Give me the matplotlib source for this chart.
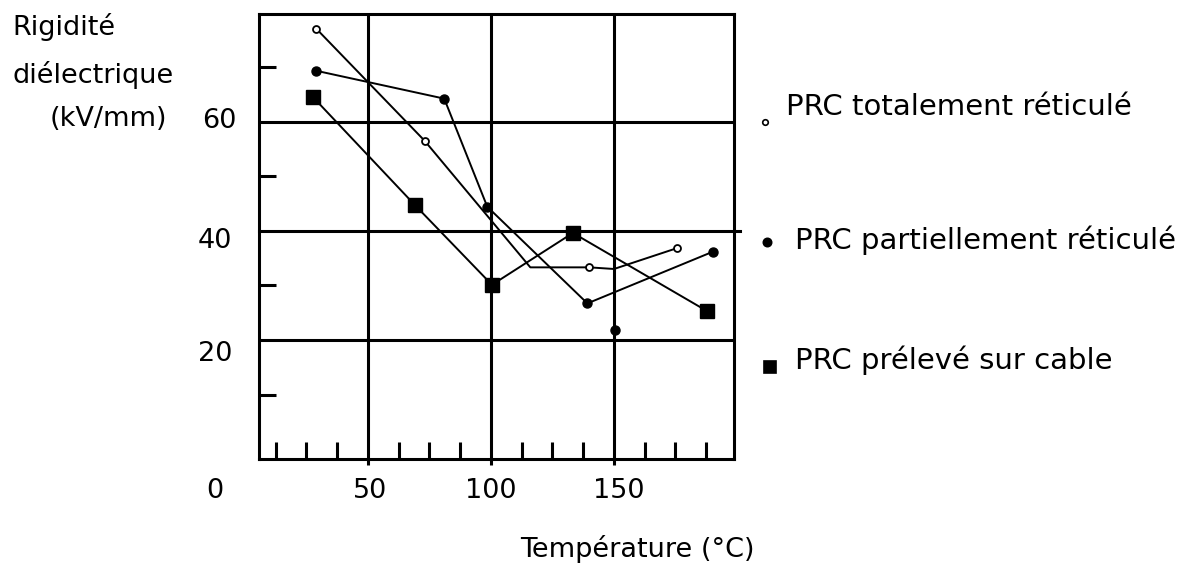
import matplotlib
matplotlib.use("Agg")
import matplotlib.pyplot as plt

# ─── Données ──────────────────────────────────────────────────────────────
tot_x = [29, 73, 116, 140, 150, 175.5]
tot_y = [77.0, 56.5, 33.3, 33.3, 33.0, 36.8]
tot_marks = [0, 1, 3, 5]          # points marqués (cercle ouvert)

part_x = [29, 81, 98.5, 139.2, 190.4]
part_y = [69.3, 64.2, 44.4, 26.7, 36.2]
part_iso_x = [150.4]
part_iso_y = [21.8]

cab_x = [27.6, 69.1, 100.4, 133.3, 187.8]
cab_y = [64.5, 44.7, 30.1, 39.6, 25.3]

x_labels = ["50", "100", "150"]
y_labels = ["60", "40", "20"]
legend_labels = ["PRC totalement réticulé",
                 "PRC partiellement réticulé",
                 "PRC prélevé sur cable"]

W, H = 1193, 573


def px(x, y):
    """Pixel (origine en haut à gauche) -> coordonnées figure."""
    return x / W, 1 - y / H


fig = plt.figure(figsize=(W / 100, H / 100), dpi=100)
ax = fig.add_axes([259 / W, 1 - 459 / H, (734 - 259) / W, (459 - 14) / H])

LW_AX = 2.2
ax.set_xlim(5.7, 198.8)
ax.set_ylim(-1.8, 79.7)

# ── Grille ────────────────────────────────────────────────────────────────
for gx in [50, 100, 150]:
    ax.axvline(gx, color="black", lw=LW_AX, zorder=1)
for gy in [20, 60]:
    ax.axhline(gy, color="black", lw=LW_AX, zorder=1)
ax.axhline(40, xmin=0, xmax=1.012, color="black", lw=LW_AX, zorder=1, clip_on=False)

for s in ax.spines.values():
    s.set_linewidth(LW_AX)

# ── Graduations ───────────────────────────────────────────────────────────
ax.set_xticks([50, 100, 150])
ax.set_xticks([12.5 * k for k in range(1, 16) if k % 4 != 0], minor=True)
ax.set_yticks([])
ax.set_yticks([10, 30, 50, 70], minor=True)
ax.tick_params(axis="x", which="major", direction="out", length=4, width=LW_AX, labelbottom=False)
ax.tick_params(axis="x", which="minor", direction="in", length=12, width=LW_AX)
ax.tick_params(axis="y", which="minor", direction="in", length=12, width=LW_AX, labelleft=False)

# ── Séries ────────────────────────────────────────────────────────────────
ax.plot(tot_x, tot_y, color="black", lw=1.4, marker="o", ms=5, mfc="white",
        mec="black", mew=1.3, markevery=tot_marks, zorder=3)
ax.plot(part_x, part_y, color="black", lw=1.4, marker="o", ms=6.5, zorder=3)
ax.plot(part_iso_x, part_iso_y, ls="none", color="black", marker="o", ms=6.5, zorder=3)
ax.plot(cab_x, cab_y, color="black", lw=1.4, marker="s", ms=10, zorder=3)

# ── Textes ────────────────────────────────────────────────────────────────
FS = 19.5
fig.text(*px(12, 27), "Rigidité", fontsize=FS, ha="left", va="center")
fig.text(*px(12, 75), "diélectrique", fontsize=FS, ha="left", va="center")
fig.text(*px(50, 119), "(kV/mm)", fontsize=FS, ha="left", va="center")

for lab, (xp, yp) in zip(y_labels, [(236, 121), (232, 241), (232, 354)]):
    fig.text(*px(xp, yp), lab, fontsize=FS, ha="right", va="center")
fig.text(*px(215, 491), "0", fontsize=FS, ha="center", va="center")

for lab, xp in zip(x_labels, [370, 491, 619]):
    fig.text(*px(xp, 491), lab, fontsize=FS, ha="center", va="center")

fig.text(*px(637, 549), "Température (°C)", fontsize=FS, ha="center", va="center")

# ── Légende manuelle ──────────────────────────────────────────────────────
LEG_FS = 21
leg_y = [107, 240, 360]
leg_tx = [786, 795, 795]
leg_mk = [(765, 122, "o", 4, "white"), (767, 242, "o", 6, "black"), (770, 367, "s", 9, "black")]
for lab, ty, tx, (mx, my, m, ms, fc) in zip(legend_labels, leg_y, leg_tx, leg_mk):
    fig.text(*px(tx, ty), lab, fontsize=LEG_FS, ha="left", va="center")
    fig.lines.append(plt.Line2D([mx / W], [1 - my / H], transform=fig.transFigure,
                                marker=m, ms=ms, mfc=fc, mec="black", mew=1.2,
                                color="black", ls="none"))

fig.savefig("out.png", dpi=100)
